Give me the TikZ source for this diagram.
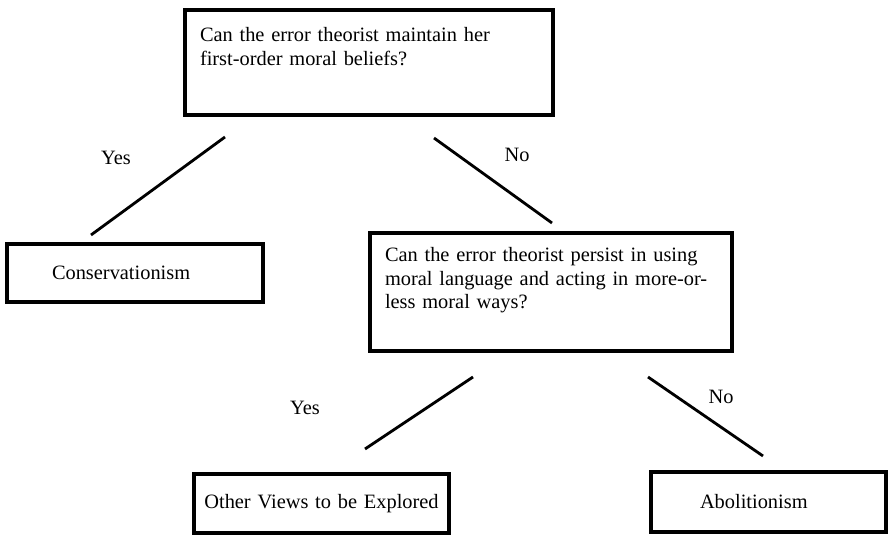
\documentclass[tikz,border=0pt]{standalone}
\usepackage{fontspec}
\setmainfont{Liberation Serif}
\usepackage{tikz}

\begin{document}
\begin{tikzpicture}[qbox/.style={draw,line width=2.4pt,align=left,font=\fontsize{14.5pt}{16.5pt}\selectfont},
    lbl/.style={font=\fontsize{14.5pt}{16.5pt}\selectfont},
    stroke/.style={line width=2pt}]

    \useasboundingbox (0,0) rectangle (22.225,-13.375);

    \node[qbox,text width=8.45cm,inner xsep=0.375cm,inner ysep=0.45cm,text height=0.35cm,text depth=1.375cm] (q1) at (9.225,-1.5625) {Can the error theorist maintain her\\first-order moral beliefs?};
    \node[qbox,text width=8.3cm,inner xsep=0.375cm,inner ysep=0.375cm,text height=0.35cm,text depth=1.85cm] (q2) at (13.775,-7.3) {Can the error theorist persist in using\\moral language and acting in \mbox{more-or-}\\less moral ways?};
    \node[qbox,text width=4.15cm,inner xsep=1.125cm,minimum height=1.45cm] (cons) at (3.375,-6.825) {Conservationism};
    \node[qbox,text width=5.925cm,inner xsep=0.225cm,minimum height=1.475cm,align=center] (other) at (8.0375,-12.5875) {Other Views to be Explored};
    \node[qbox,text width=3.425cm,inner xsep=1.225cm,minimum height=1.5cm] (abol) at (19.2125,-12.55) {Abolitionism};

    \coordinate (yes1a) at (5.625,-3.425);
    \coordinate (yes1b) at (2.275,-5.875);
    \coordinate (no1a) at (10.85,-3.45);
    \coordinate (no1b) at (13.8,-5.575);
    \coordinate (yes2a) at (11.825,-9.425);
    \coordinate (yes2b) at (9.125,-11.225);
    \coordinate (no2a) at (16.2,-9.425);
    \coordinate (no2b) at (19.075,-11.4);

    \draw[stroke] (yes1a) -- (yes1b);
    \draw[stroke] (no1a) -- (no1b);
    \draw[stroke] (yes2a) -- (yes2b);
    \draw[stroke] (no2a) -- (no2b);

    \node[lbl] (tyes1) at (2.9,-3.95) {Yes};
    \node[lbl] (tno1) at (12.925,-3.875) {No};
    \node[lbl] (tyes2) at (7.625,-10.2) {Yes};
    \node[lbl] (tno2) at (18.025,-9.925) {No};
  \end{tikzpicture}
\end{document}
